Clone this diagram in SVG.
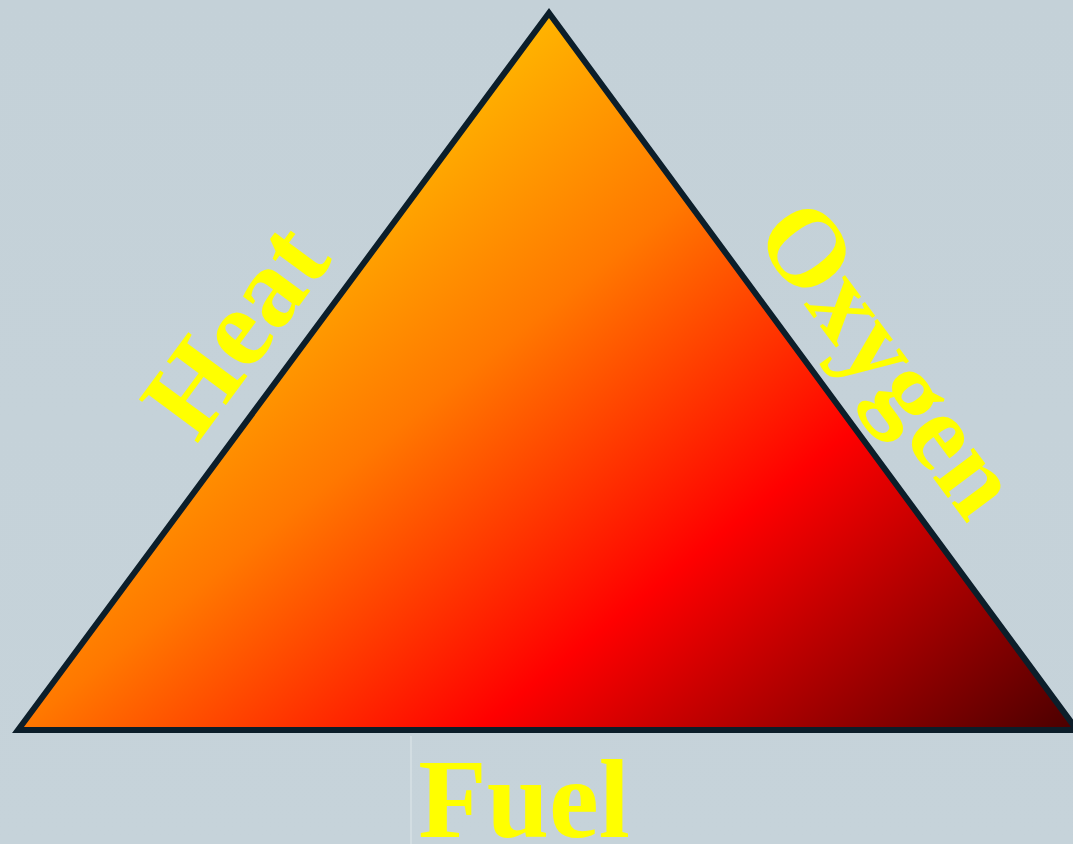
<svg xmlns="http://www.w3.org/2000/svg" width="1073" height="844" viewBox="0 0 1073 844">
  <defs>
    <linearGradient id="bg" x1="0" y1="0" x2="0" y2="1">
      <stop offset="0" stop-color="#c4d1d8"/>
      <stop offset="1" stop-color="#c6d3da"/>
    </linearGradient>
    <linearGradient id="fire" gradientUnits="userSpaceOnUse" x1="549" y1="12" x2="1103" y2="707">
      <stop offset="0" stop-color="#FFB400"/>
      <stop offset="0.26" stop-color="#FF7800"/>
      <stop offset="0.58" stop-color="#FF0000"/>
      <stop offset="1" stop-color="#4a0000"/>
    </linearGradient>
    <style>
      .lbl { font-family: "Liberation Serif", "Times New Roman", serif; font-weight: bold; font-size: 112px; fill: #FFFF00; text-anchor: middle; }
    </style>
  </defs>
  <rect x="0" y="0" width="1073" height="844" fill="url(#bg)"/>
  <line x1="411" y1="736" x2="411" y2="844" stroke="#d2dde2" stroke-width="2"/>
  <g id="triangle">
    <polygon points="18,730 549,13 1077,730" fill="url(#fire)" stroke="#0c1e2a" stroke-width="6" stroke-linejoin="miter"/>
  </g>
  <g id="heat">
    <text class="lbl" transform="translate(265,352) rotate(-53.6)">Heat</text>
  </g>
  <g id="oxygen">
    <text class="lbl" transform="translate(860,380) rotate(53.3)" style="font-size:110px">Oxygen</text>
  </g>
  <g id="fuel">
    <text class="lbl" x="524" y="837">Fuel</text>
  </g>
</svg>
